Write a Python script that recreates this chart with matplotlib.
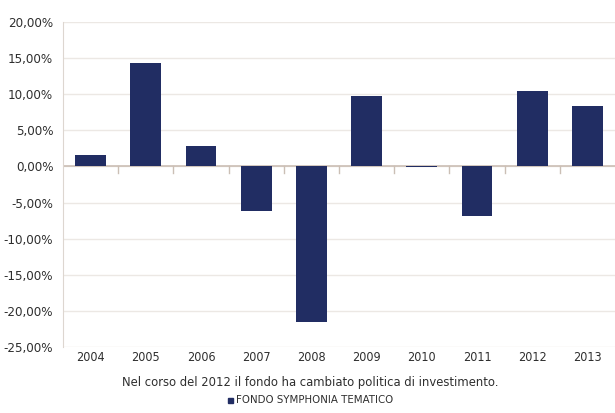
import matplotlib.pyplot as plt
from matplotlib.patches import Rectangle
from matplotlib.ticker import FuncFormatter

plt.rcParams['font.family'] = ['DejaVu Sans']
plt.rcParams['font.stretch'] = 'condensed'

years = ['2004', '2005', '2006', '2007', '2008', '2009', '2010', '2011', '2012', '2013']
returns = [1.6, 14.3, 2.8, -6.1, -21.5, 9.7, -0.1, -6.9, 10.5, 8.4]

navy = '#212d63'
text_col = '#2e2e2e'

fig = plt.figure(figsize=(6.15, 4.13), dpi=100)
ax = fig.add_axes([63 / 615, 66 / 413, 552 / 615, 325 / 413])

x = list(range(len(years)))
ax.bar(x, returns, width=0.56, color=navy, zorder=3)

ax.set_xlim(-0.5, len(years) - 0.5)
ax.set_ylim(-25, 20)
ax.set_yticks(range(-25, 21, 5))
ax.yaxis.set_major_formatter(FuncFormatter(lambda v, p: f'{v:.2f}%'.replace('.', ',')))
ax.grid(axis='y', color='#ece8e4', linewidth=1, zorder=0)
ax.tick_params(axis='y', length=0, labelsize=9.5, colors=text_col, pad=7)

ax.set_xticks(x)
ax.set_xticklabels(years)
ax.tick_params(axis='x', length=0, labelsize=9, colors=text_col, pad=3)

for s in ['top', 'right', 'bottom']:
    ax.spines[s].set_visible(False)
ax.spines['left'].set_color('#ddd6d0')

# zero line with separators between categories
ax.axhline(0, color='#cbbfb5', linewidth=1.2, zorder=2)
for b in range(1, len(years)):
    ax.plot([b - 0.5, b - 0.5], [0, -0.9], color='#cbbfb5', linewidth=1, zorder=2)

fig.text(0.505, 0.075, 'Nel corso del 2012 il fondo ha cambiato politica di investimento.',
         ha='center', va='center', fontsize=9.3, color=text_col)
fig.patches.append(Rectangle((228 / 615, 1 - 403 / 413), 5 / 615, 5 / 413,
                             transform=fig.transFigure, color=navy))
fig.text(236 / 615, 1 - 400 / 413, 'FONDO SYMPHONIA TEMATICO',
         ha='left', va='center', fontsize=8.2, color=text_col)

fig.savefig('out.png', dpi=100)
